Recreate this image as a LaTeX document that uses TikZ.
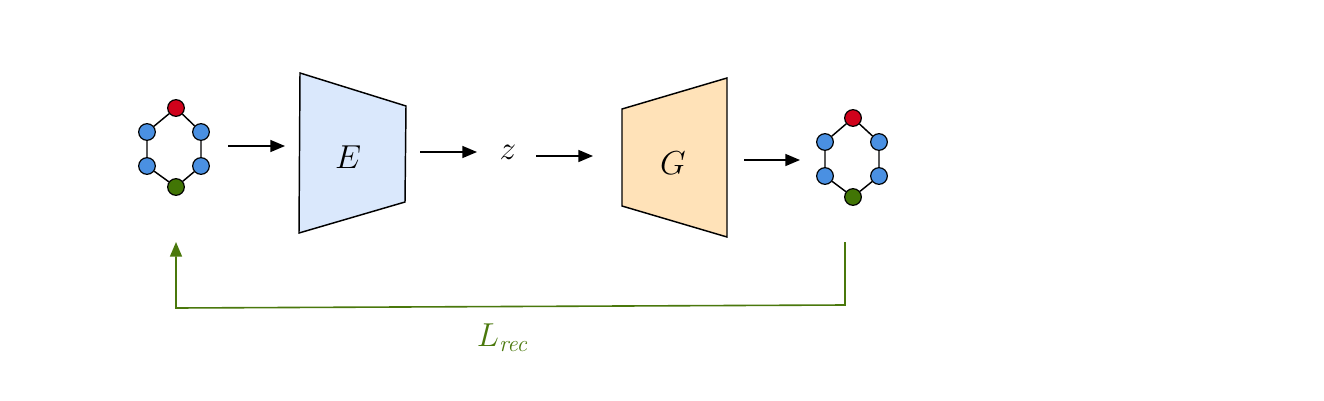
\documentclass[tikz,border=0pt]{standalone}
\usetikzlibrary{arrows.meta}
\definecolor{nblue}{HTML}{4A90E2}
\definecolor{nred}{HTML}{D0021B}
\definecolor{ngreen}{HTML}{417505}
\definecolor{efill}{HTML}{DAE8FC}
\definecolor{gfill}{HTML}{FFE2B8}
\definecolor{lgreen}{HTML}{4A780C}
\tikzset{
  atom/.style={circle,draw=black,line width=0.9pt,minimum size=12.5pt,inner sep=0pt},
  bl/.style={atom,fill=nblue},
  rd/.style={atom,fill=nred},
  gr/.style={atom,fill=ngreen},
  bond/.style={line width=1.1pt},
  flow/.style={line width=1.1pt,-{Triangle[length=11pt,width=9pt]}},
  lbl/.style={font=\fontsize{25}{28}\selectfont},
}
\begin{document}
\begin{tikzpicture}[x=0.75pt,y=-0.75pt]
\useasboundingbox (0,0) rectangle (1324,400);
% molecule 1
\node[rd] (a1) at (176,108) {};
\node[bl] (a2) at (147,132) {};
\node[bl] (a3) at (201,132) {};
\node[bl] (a4) at (147,166) {};
\node[bl] (a5) at (201,166) {};
\node[gr] (a6) at (176,187) {};
\draw[bond] (a1)--(a2) (a1)--(a3) (a2)--(a4) (a3)--(a5) (a4)--(a6) (a5)--(a6);
% molecule 2
\node[rd] (b1) at (853,118) {};
\node[bl] (b2) at (825,142) {};
\node[bl] (b3) at (879,142) {};
\node[bl] (b4) at (825,176) {};
\node[bl] (b5) at (879,176) {};
\node[gr] (b6) at (853,197) {};
\draw[bond] (b1)--(b2) (b1)--(b3) (b2)--(b4) (b3)--(b5) (b4)--(b6) (b5)--(b6);
% encoder
\draw[line width=1.1pt,fill=efill] (300,73) -- (406,106) -- (405,202) -- (299,233) -- cycle;
\node[lbl] (E) at (348,157) {$E$};
% generator
\draw[line width=1.1pt,fill=gfill] (622,109) -- (727,78) -- (727,237) -- (622,206) -- cycle;
\node[lbl] (G) at (673,163) {$G$};
\node[lbl] (z) at (508,152) {$z$};
% arrows
\coordinate (p1) at (228,146); \coordinate (q1) at (285,146);
\coordinate (p2) at (420,152); \coordinate (q2) at (477,152);
\coordinate (p3) at (536,156); \coordinate (q3) at (593,156);
\coordinate (p4) at (744,160); \coordinate (q4) at (800,160);
\draw[flow] (p1)--(q1);
\draw[flow] (p2)--(q2);
\draw[flow] (p3)--(q3);
\draw[flow] (p4)--(q4);
% loss loop
\coordinate (r1) at (845,242);
\coordinate (r2) at (845,305);
\coordinate (r3) at (176,308);
\coordinate (r4) at (176,242);
\draw[lgreen,line width=1.2pt,-{Triangle[length=11pt,width=9pt]}] (r1)--(r2)--(r3)--(r4);
\node[lbl,text=lgreen] (L) at (503,338) {$L_{\mathit{rec}}$};
\end{tikzpicture}
\end{document}
